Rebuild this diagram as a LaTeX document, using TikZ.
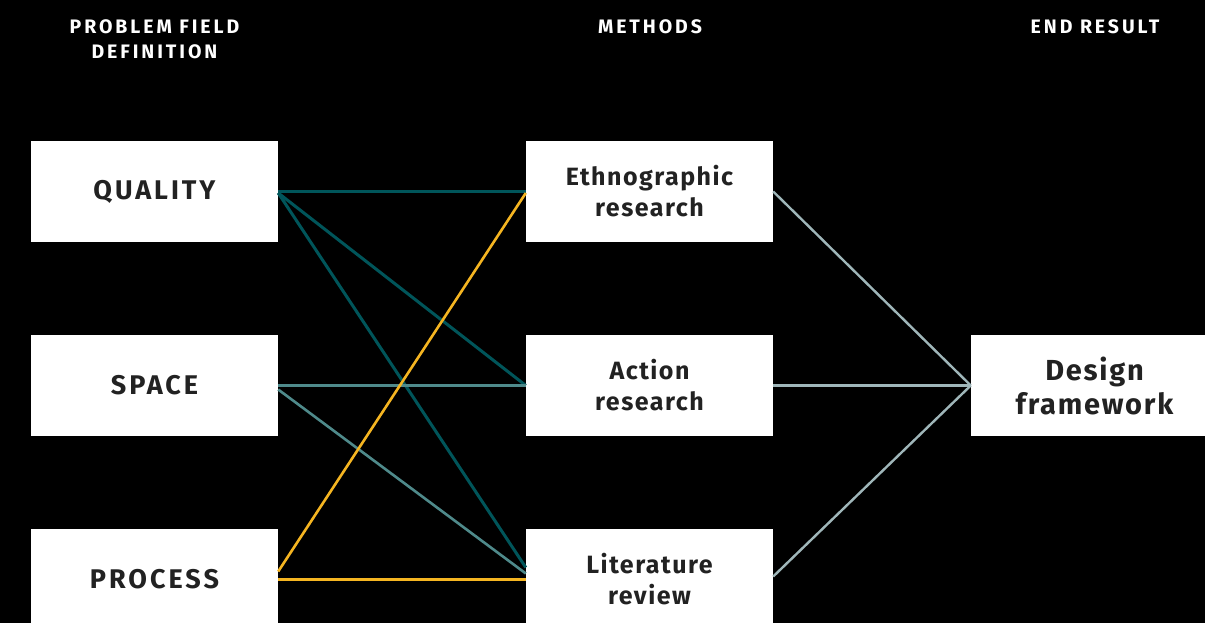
\documentclass[tikz,border=0pt]{standalone}
\usepackage{fontspec}
\setmainfont{Fira Sans}[LetterSpace=6]
\newfontfamily\capsfont{Fira Sans}[LetterSpace=11]
\newfontfamily\headfont{Fira Sans}[LetterSpace=15]
\definecolor{darkteal}{HTML}{00555A}
\definecolor{midteal}{HTML}{4F8A8B}
\definecolor{gold}{HTML}{F5B521}
\definecolor{grayblue}{HTML}{9FB6B9}
\definecolor{boxtext}{HTML}{222222}
\tikzset{
  box/.style={fill=white, minimum width=247pt, minimum height=101pt, inner sep=0pt, align=center, text=boxtext, font=\fontsize{25}{31}\selectfont\bfseries},
  capbox/.style={box, font=\capsfont\fontsize{27}{31}\selectfont\bfseries},
  bigbox/.style={box, font=\fontsize{29}{34}\selectfont\bfseries},
  header/.style={text=white, align=center, inner sep=0pt, font=\headfont\fontsize{19.5}{25}\selectfont\bfseries},
  qline/.style={draw=darkteal, line width=3pt},
  sline/.style={draw=midteal, line width=2.6pt},
  pline/.style={draw=gold, line width=2.6pt},
  rline/.style={draw=grayblue, line width=2.4pt}
}
\begin{document}
\begin{tikzpicture}[x=1pt,y=-1pt]
\useasboundingbox (0,0) rectangle (1205,623);
\fill[black] (0,0) rectangle (1205,623);
\clip (0,0) rectangle (1205,623);
\node[header] (h1) at (154.5,39.5) {PROBLEM FIELD\\DEFINITION};
\node[header] (h2) at (650,27) {METHODS};
\node[header] (h3) at (1095,27) {END RESULT};
\node[capbox] (q) at (154.5,191.5) {QUALITY};
\node[capbox] (s) at (154.5,385.5) {SPACE};
\node[capbox] (p) at (154.5,579.5) {PROCESS};
\node[box] (e) at (649.5,191.5) {Ethnographic\\research};
\node[box] (a) at (649.5,385.5) {Action\\research};
\node[box] (l) at (649.5,579.5) {Literature\\review};
\node[bigbox] (d) at (1094.5,385.5) {Design\\framework};
% quality lines
\draw[qline] (q.east) -- (e.west);
\draw[qline] ([yshift=-1.5pt]q.east) -- (a.west);
\draw[qline] ([yshift=-1.5pt]q.east) -- ([yshift=12pt]l.west);
% space lines
\draw[sline] (s.east) -- (a.west);
\draw[sline] ([yshift=-4pt]s.east) -- ([yshift=6pt]l.west);
% process lines
\draw[pline] ([yshift=8pt]p.east) -- ([yshift=-1.5pt]e.west);
\draw[pline] (p.east) -- (l.west);
% to result
\draw[rline] (e.east) -- (d.west);
\draw[rline] (a.east) -- (d.west);
\draw[rline] ([yshift=3pt]l.east) -- (d.west);
\end{tikzpicture}
\end{document}
